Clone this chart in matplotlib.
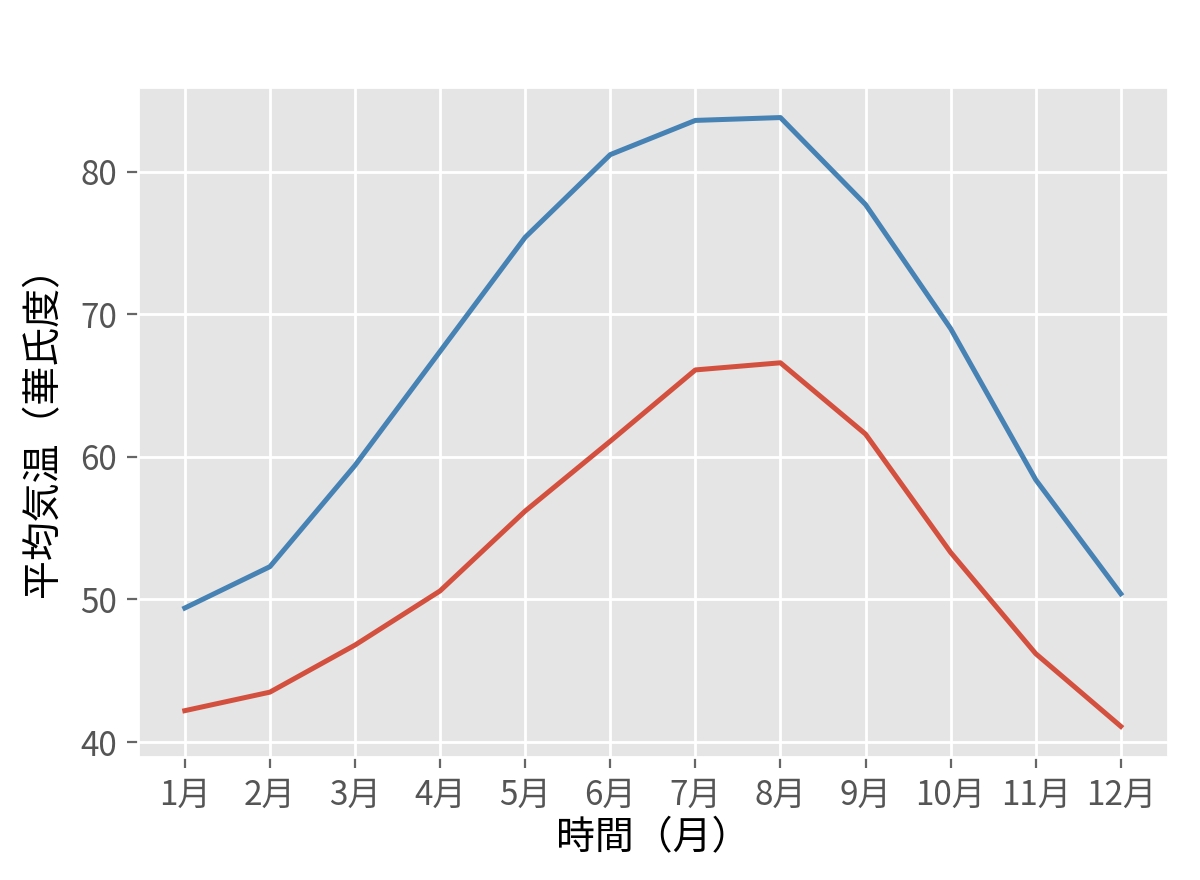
import matplotlib
matplotlib.use("Agg")
import matplotlib.pyplot as plt

months = ["1月", "2月", "3月", "4月", "5月", "6月", "7月", "8月", "9月", "10月", "11月", "12月"]
high_temp = [49.4, 52.3, 59.4, 67.4, 75.4, 81.2, 83.6, 83.8, 77.7, 69.0, 58.4, 50.4]
low_temp = [42.2, 43.5, 46.8, 50.6, 56.2, 61.1, 66.1, 66.6, 61.6, 53.3, 46.2, 41.1]
yticks = [40, 50, 60, 70, 80]

plt.style.use("ggplot")
plt.rcParams['font.family'] = ['Noto Sans CJK JP', 'DejaVu Sans']

fig = plt.figure(figsize=(6, 4.4), dpi=200)
ax = fig.add_axes([0.115, 0.140, 0.858, 0.761])
x = list(range(len(months)))
ax.plot(x, high_temp, color='#4682b4', linewidth=1.8)
ax.plot(x, low_temp, color='#d4503e', linewidth=1.8)
ax.set_xticks(x)
ax.set_xticklabels(months)
ax.set_yticks(yticks)
ax.tick_params(axis='both', labelsize=12, colors='#666666', length=4, width=0.8)
for lab in ax.get_xticklabels() + ax.get_yticklabels():
    lab.set_color('#555555')
ax.set_xlabel("時間（月）", fontsize=14, color='black', labelpad=2)
ax.set_ylabel("平均気温（華氏度）", fontsize=14, color='black', labelpad=6)
ax.grid(True, color='white', linewidth=1.0)
ax.set_facecolor('#E5E5E5')
fig.savefig("out.png", dpi=200, facecolor='white')
